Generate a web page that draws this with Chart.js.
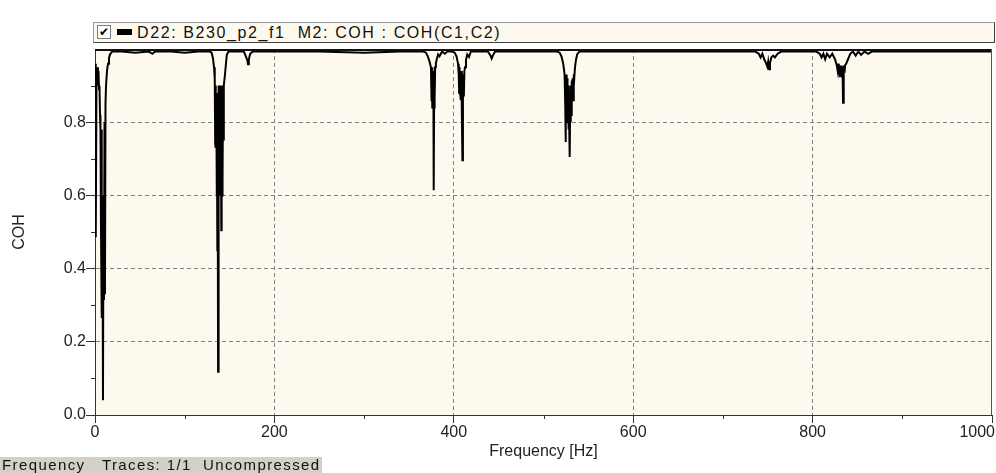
<!DOCTYPE html>
<html>
<head>
<meta charset="utf-8">
<script src="https://cdn.jsdelivr.net/npm/chart.js@4"></script>
<style>
  body { margin: 0; background: #fff; width: 996px; height: 473px; overflow: hidden; position: relative; font-family: "Liberation Sans", Arial, sans-serif; }
  #wrap { position: absolute; left: 0; top: 0; width: 996px; height: 473px; }
  #legendBox { position: absolute; left: 93px; top: 22px; width: 900px; height: 19px; background: #fdf9ee;
    border: 1px solid #9a9a9a; border-right-color: #404040; border-bottom-color: #404040; }
  #chk { position: absolute; left: 3px; top: 2px; width: 12px; height: 12px; background: #fff; border: 1px solid #7a7a7a;
    font: bold 12px "DejaVu Sans", sans-serif; line-height: 12px; text-align: center; color: #000; }
  #mark { position: absolute; left: 23px; top: 6px; width: 15px; height: 6px; background: #000; }
  #legText { position: absolute; left: 43px; top: 0px; font-size: 16px; line-height: 19px; color: #111; white-space: pre; letter-spacing: 1.6px; }
  #status { position: absolute; left: 0; top: 457px; width: 322px; height: 16px; background: #d4d0c8;
    font-size: 15px; line-height: 16px; color: #111; white-space: pre; letter-spacing: 1.4px; padding-left: 2px; box-sizing: border-box; }
</style>
</head>
<body>
<div id="wrap"><canvas id="myChart" width="996" height="473"></canvas></div>
<div id="legendBox"><div id="chk">✔</div><div id="mark"></div><div id="legText">D22: B230_p2_f1  M2: COH : COH(C1,C2)</div></div>
<div id="status">Frequency   Traces: 1/1  Uncompressed</div>
<script>
// coherence trace (Hz, COH)
var freqHz = [0, 0.6, 1.1, 1.7, 2.2, 2.8, 3.3, 3.9, 4.5, 5.0, 5.6, 6.1, 6.7, 7.2, 7.8, 8.3, 8.9, 9.4, 10.0, 10.6, 11.1, 11.7, 12.3, 13.4, 14.5, 15.6, 16.7, 19,
    30, 45, 60, 64, 67, 85, 100, 115,
    128, 130, 131.5, 132.7, 133.5, 134, 134.4, 134.8, 135.2, 135.6, 136, 136.4, 136.8, 137.2, 137.6, 138, 138.4, 138.8, 139.2, 139.6, 140, 140.4, 140.8, 141.2, 141.6, 142, 142.4, 142.8, 143.4, 143.8, 144.9, 146, 147, 149,
    160, 166, 168.5, 170, 170.6, 171.5, 173, 176, 200, 250, 300, 340,
    366, 369, 371, 373, 374.5, 375.2, 375.6, 376, 376.4, 376.8, 377.2, 377.6, 378, 378.4, 378.8, 379.2, 380, 381.3, 382.5, 384, 387, 390, 393,
    398, 401, 403, 404.7, 405.5, 406, 406.5, 407, 407.5, 408, 408.5, 409, 409.6, 410.2, 410.7, 411.2, 411.8, 412.5, 413.6, 415, 417, 419,
    432, 438, 441, 442.2, 443.5, 446, 470, 500,
    515, 518, 520, 522, 523.5, 524.2, 524.6, 525, 525.4, 525.8, 526.2, 526.6, 527, 527.4, 527.8, 528.2, 528.6, 529, 529.4, 529.8, 530.2, 530.6, 531, 531.5, 532, 532.5, 533, 533.5, 534, 535.1, 536.2, 537.5, 540,
    600, 650, 700,
    736, 740, 742, 744, 746, 748, 749.5, 750.5, 751.5, 752.5, 754, 756, 758, 761, 765, 785,
    804, 808, 810, 812, 814, 816, 819, 822, 825, 827, 828, 828.6, 829.2, 829.8, 830.4, 831, 831.6, 832.2, 832.8, 833.4, 833.9, 834.4, 835, 835.6, 836.2, 837.5, 839.5, 842, 845, 848, 851, 854, 858, 862, 866,
    900, 950, 1000];
var coh = [0.96, 0.95, 0.486, 0.94, 0.92, 0.95, 0.9, 0.94, 0.89, 0.9, 0.82, 0.78, 0.5, 0.78, 0.265, 0.6, 0.04, 0.55, 0.314, 0.8, 0.33, 0.85, 0.9, 0.94, 0.96, 0.975, 0.985, 0.993,
    0.993, 0.99, 0.993, 0.987, 0.993, 0.993, 0.99, 0.993,
    0.993, 0.99, 0.975, 0.95, 0.92, 0.74, 0.9, 0.73, 0.88, 0.6, 0.86, 0.45, 0.7, 0.118, 0.75, 0.9, 0.62, 0.9, 0.6, 0.9, 0.606, 0.88, 0.505, 0.9, 0.6, 0.88, 0.65, 0.9, 0.75, 0.9, 0.93, 0.96, 0.985, 0.993,
    0.993, 0.993, 0.978, 0.968, 0.958, 0.972, 0.987, 0.993, 0.993, 0.993, 0.99, 0.993,
    0.993, 0.99, 0.98, 0.965, 0.95, 0.86, 0.95, 0.84, 0.94, 0.85, 0.93, 0.614, 0.84, 0.95, 0.86, 0.95, 0.96, 0.975, 0.985, 0.98, 0.993, 0.987, 0.993,
    0.993, 0.99, 0.98, 0.96, 0.93, 0.88, 0.95, 0.88, 0.94, 0.86, 0.94, 0.82, 0.696, 0.88, 0.93, 0.87, 0.94, 0.95, 0.97, 0.985, 0.978, 0.993,
    0.993, 0.993, 0.982, 0.974, 0.982, 0.993, 0.993, 0.993,
    0.993, 0.99, 0.98, 0.96, 0.93, 0.85, 0.746, 0.9, 0.8, 0.93, 0.82, 0.92, 0.8, 0.9, 0.78, 0.9, 0.8, 0.88, 0.705, 0.86, 0.8, 0.9, 0.82, 0.914, 0.86, 0.92, 0.86, 0.93, 0.9, 0.95, 0.97, 0.985, 0.993,
    0.993, 0.993, 0.993,
    0.993, 0.987, 0.977, 0.987, 0.972, 0.962, 0.952, 0.966, 0.945, 0.962, 0.977, 0.982, 0.977, 0.987, 0.993, 0.993,
    0.993, 0.987, 0.977, 0.987, 0.972, 0.987, 0.977, 0.987, 0.972, 0.955, 0.94, 0.96, 0.93, 0.955, 0.923, 0.95, 0.93, 0.955, 0.925, 0.95, 0.853, 0.93, 0.955, 0.935, 0.955, 0.96, 0.972, 0.987, 0.993, 0.982, 0.993, 0.984, 0.993, 0.987, 0.993,
    0.993, 0.993, 0.993];
var xTicks = [0, 100, 200, 300, 400, 500, 600, 700, 800, 900, 1000];
var yTicks = [0, 0.1, 0.2, 0.3, 0.4, 0.5, 0.6, 0.7, 0.8, 0.9];
var traceLabel = 'D22: B230_p2_f1  M2: COH : COH(C1,C2)';

var points = freqHz.map(function (f, i) { return { x: f, y: coh[i] }; });

function isMajorX(v) { return v % 200 === 0; }
function isMajorY(v) { return Math.round(v * 10) % 2 === 0; }

var plotFrame = {
    id: 'plotFrame',
    beforeDraw: function (chart) {
        var a = chart.chartArea, c = chart.ctx;
        c.save();
        c.fillStyle = '#fdf9ee';
        c.fillRect(a.left, a.top, a.right - a.left, a.bottom - a.top);
        c.restore();
        // right-align the last x label like the original
        var items = chart.scales.x.getLabelItems(a);
        var last = items[items.length - 1];
        if (last) {
            last.options.textAlign = 'right';
            last.options.translation[0] += 3;
        }
    },
    afterDraw: function (chart) {
        var a = chart.chartArea, c = chart.ctx;
        var xs = chart.scales.x, ys = chart.scales.y;
        c.save();
        c.strokeStyle = '#333';
        c.lineWidth = 1;
        c.beginPath();
        xs.ticks.forEach(function (t) {
            if (isMajorX(t.value)) return;
            var px = Math.round(xs.getPixelForValue(t.value)) + 0.5;
            c.moveTo(px, a.bottom);
            c.lineTo(px, a.bottom + 4);
        });
        ys.ticks.forEach(function (t) {
            if (isMajorY(t.value)) return;
            var py = Math.round(ys.getPixelForValue(t.value)) + 0.5;
            c.moveTo(a.left - 4, py);
            c.lineTo(a.left, py);
        });
        c.stroke();
        // top and right edges of the plot frame
        c.strokeStyle = '#111';
        c.lineWidth = 2;
        c.beginPath();
        c.moveTo(a.left, a.top + 1);
        c.lineTo(a.right, a.top + 1);
        c.stroke();
        c.strokeStyle = '#555';
        c.lineWidth = 1;
        c.beginPath();
        c.moveTo(a.right - 0.5, a.top);
        c.lineTo(a.right - 0.5, a.bottom);
        c.stroke();
        c.restore();
    }
};

var tickFont = { family: '"Liberation Sans", Arial, sans-serif', size: 16 };

var ctx = document.getElementById('myChart').getContext('2d');
var myChart = new Chart(ctx, {
    type: 'line',
    data: {
        datasets: [{
            label: traceLabel,
            data: points,
            borderColor: '#000',
            borderWidth: 2,
            pointRadius: 0,
            tension: 0
        }]
    },
    options: {
        responsive: false,
        animation: false,
        devicePixelRatio: 1,
        layout: { padding: { top: 49, right: 4, bottom: 0, left: 0 } },
        plugins: {
            legend: { display: false },
            tooltip: { enabled: false }
        },
        scales: {
            x: {
                type: 'linear',
                min: 0,
                max: 1000,
                afterBuildTicks: function (scale) {
                    scale.ticks = xTicks.map(function (v) { return { value: v }; });
                },
                afterFit: function (scale) {
                    scale.height = 58;
                    scale.paddingLeft = 0;
                    scale.paddingRight = 0;
                },
                ticks: {
                    autoSkip: false,
                    maxRotation: 0,
                    padding: 0,
                    color: '#222',
                    font: tickFont,
                    callback: function (v) { return isMajorX(v) ? String(v) : ''; }
                },
                grid: {
                    tickLength: 8,
                    color: function (c) {
                        var v = c.tick ? c.tick.value : 0;
                        return (isMajorX(v) && v !== 0 && v !== 1000) ? '#808080' : 'rgba(0,0,0,0)';
                    },
                    tickColor: function (c) {
                        return c.tick && isMajorX(c.tick.value) ? '#333' : 'rgba(0,0,0,0)';
                    }
                },
                border: { display: true, color: '#333', width: 1, dash: [4, 3] },
                title: {
                    display: true,
                    text: 'Frequency [Hz]',
                    color: '#222',
                    font: { family: '"Liberation Sans", Arial, sans-serif', size: 16 },
                    padding: { top: 0, bottom: 12 }
                }
            },
            y: {
                min: 0,
                max: 1,
                afterBuildTicks: function (scale) {
                    scale.ticks = yTicks.map(function (v) { return { value: v }; });
                },
                afterFit: function (scale) {
                    scale.width = 95;
                    scale.paddingTop = 0;
                    scale.paddingBottom = 0;
                },
                ticks: {
                    autoSkip: false,
                    padding: 0,
                    color: '#222',
                    font: tickFont,
                    callback: function (v) { return isMajorY(v) ? v.toFixed(1) : ''; }
                },
                grid: {
                    tickLength: 9,
                    color: function (c) {
                        var v = c.tick ? c.tick.value : 0;
                        return (isMajorY(v) && v !== 0) ? '#808080' : 'rgba(0,0,0,0)';
                    },
                    tickColor: function (c) {
                        return c.tick && isMajorY(c.tick.value) ? '#333' : 'rgba(0,0,0,0)';
                    }
                },
                border: { display: true, color: '#333', width: 1, dash: [4, 3] },
                title: {
                    display: true,
                    text: 'COH',
                    color: '#222',
                    font: { family: '"Liberation Sans", Arial, sans-serif', size: 16 },
                    padding: { top: 10, bottom: 0 }
                }
            }
        }
    },
    plugins: [plotFrame]
});
</script>
</body>
</html>
